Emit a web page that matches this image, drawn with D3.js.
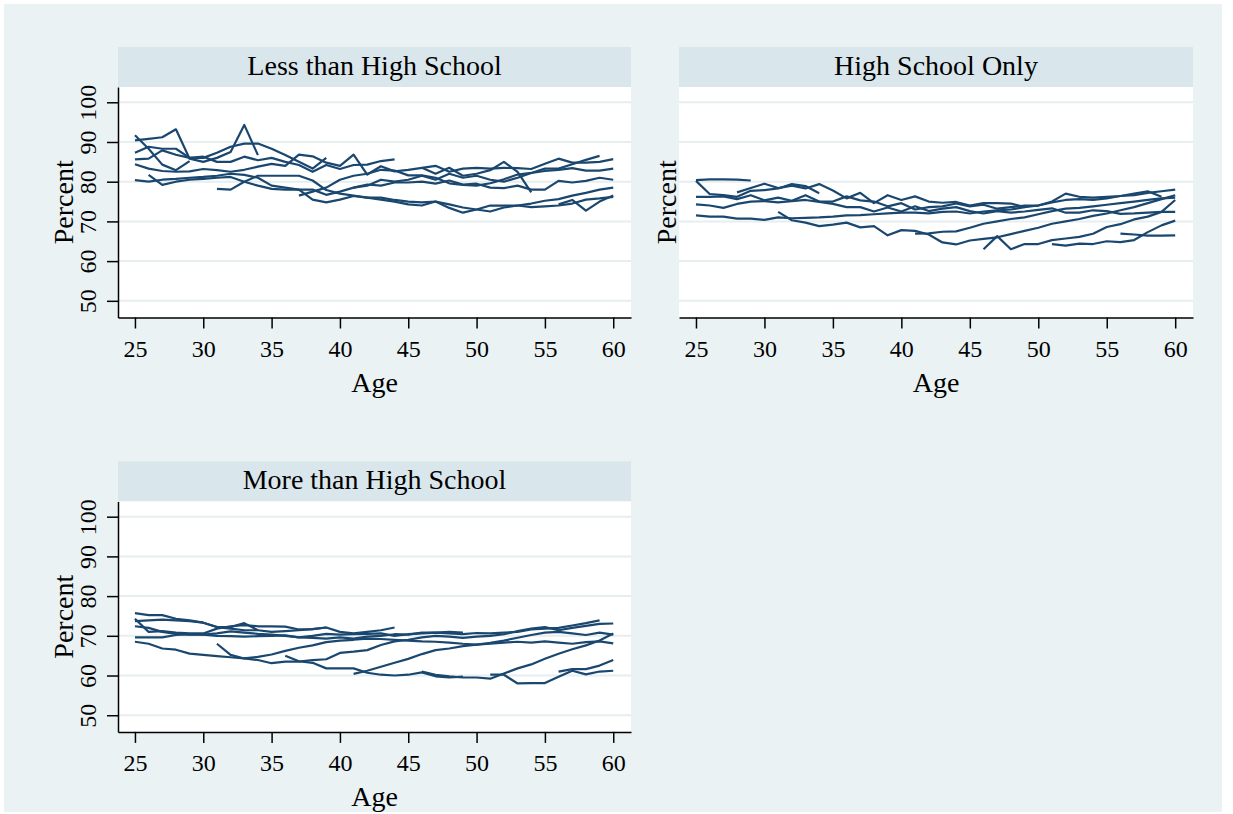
<!DOCTYPE html>
<html>
<head>
<meta charset="utf-8">
<script src="https://cdn.jsdelivr.net/npm/d3@7/dist/d3.min.js"></script>
<style>
  html, body { margin: 0; padding: 0; background: #ffffff; }
  svg { display: block; }
  text { font-family: "Liberation Serif", "Times New Roman", serif; fill: #000; }
</style>
</head>
<body>
<svg id="chart" width="1233" height="814"></svg>
<script>
// ---- data: percent by age, one line per cohort (start age + yearly values) ----
const panelTitles = ["Less than High School", "High School Only", "More than High School"];
const yTicks = [50, 60, 70, 80, 90, 100];
const xTicks = [25, 30, 35, 40, 45, 50, 55, 60];

const lessHSStarts = [25, 25, 25, 25, 25, 25, 26, 31, 37, 41, 46, 56];
const lessHSValues = [
  [91.7, 88.3, 84.3, 82.9, 85.2],
  [90.4, 90.8, 91.2, 93.2, 85.8, 85.0, 86.0, 87.5, 94.3, 86.7],
  [87.3, 88.8, 88.3, 88.3, 86.0, 86.0, 87.3, 88.8, 89.6, 89.6, 88.3, 86.7, 85.0, 83.3, 86.0],
  [85.6, 85.8, 87.9, 86.8, 86.0, 86.3, 85.0, 85.0, 86.3, 85.4, 86.0, 85.0, 84.2, 82.5, 84.2, 83.2, 84.2, 84.3, 85.2, 85.6],
  [84.4, 83.3, 82.7, 82.5, 82.6, 83.2, 82.9, 82.5, 83.0, 83.8, 84.5, 84.0, 86.8, 86.4, 84.8, 84.0, 86.8, 81.8, 83.9, 82.6,
   83.0, 83.5, 84.0, 82.5, 83.3, 83.5, 83.3, 83.5, 83.4, 83.2, 84.5, 85.8, 84.8, 84.8, 85.0, 85.7],
  [80.4, 80.0, 80.5, 80.7, 81.0, 81.2, 81.5, 82.0, 81.7, 81.0, 79.0, 78.5, 78.0, 78.0, 76.7, 77.5, 78.5, 79.3, 79.0, 79.8,
   79.8, 80.0, 79.5, 80.3, 79.3, 79.5, 78.5, 78.4, 79.0, 78.0, 78.0, 80.2, 79.8, 80.2, 81.0, 80.5],
  [81.7, 79.2, 80.0, 80.5, 80.7, 81.0, 81.2, 80.0, 79.0, 78.2, 78.0, 78.0, 75.5, 74.8, 75.5, 76.4, 76.0, 76.0, 75.4, 75.0,
   74.8, 75.0, 73.4, 72.2, 73.0, 74.0, 74.0, 74.0, 73.6, 73.8, 74.0, 74.5, 75.5, 75.8, 76.2],
  [78.2, 78.0, 80.0, 81.5, 81.5, 81.5, 81.5, 80.3, 77.9, 77.0, 76.5, 76.0, 75.5, 75.0, 74.3, 74.0, 75.0, 74.3, 73.5, 73.0,
   72.5, 73.5, 74.0, 74.5, 75.2, 75.6, 76.5, 77.2, 78.0, 78.5],
  [76.5, 77.5, 78.5, 80.5, 81.5, 82.0, 83.0, 82.8, 81.6, 81.6, 81.0, 79.6, 79.2, 79.0, 79.6, 80.6, 81.8, 82.2, 82.7, 83.0,
   83.4, 82.8, 82.8, 83.3],
  [78.5, 79.0, 80.5, 80.0, 80.5, 81.5, 80.5, 82.0, 81.0, 81.5, 80.5, 80.0, 81.0, 82.2, 83.3, 83.3, 84.4, 85.5, 86.5],
  [83.5, 82.0, 83.5, 81.5, 82.0, 82.9, 85.0, 82.5, 77.3],
  [74.3, 75.4, 72.7, 75.0, 76.5]
];

const hsOnlyStarts = [25, 25, 28, 25, 25, 25, 31, 41, 46, 51, 56];
const hsOnlyValues = [
  [80.4, 80.6, 80.6, 80.5, 80.3],
  [80.2, 76.9, 76.6, 76.2, 77.7, 77.9, 78.3, 79.4, 78.9, 77.1],
  [77.3, 78.4, 79.5, 78.4, 79.0, 78.3, 79.4, 77.8, 75.8, 77.2, 74.6, 76.6, 75.4, 76.3, 75.0, 74.7, 74.9, 74.0, 74.6, 74.6,
   74.5, 73.6],
  [76.2, 76.2, 76.3, 75.6, 76.6, 75.3, 76.0, 75.2, 76.6, 75.0, 75.0, 76.3, 75.3, 75.0, 73.8, 74.6, 73.0, 73.6, 73.8, 74.5,
   73.8, 74.2, 73.2, 73.6, 74.0, 74.0, 75.0, 77.0, 76.2, 76.0, 76.2, 76.4, 77.0, 77.6, 76.2],
  [74.3, 74.0, 73.4, 74.4, 75.0, 75.1, 74.8, 75.1, 75.4, 74.9, 74.4, 73.6, 73.6, 72.5, 73.5, 72.5, 73.8, 72.6, 73.2, 73.6,
   72.6, 72.0, 72.6, 72.2, 72.5, 72.9, 73.3, 72.2, 72.2, 72.8, 72.6, 71.9, 72.0, 72.2, 72.4, 72.4],
  [71.5, 71.2, 71.2, 70.7, 70.7, 70.4, 71.0, 70.8, 70.9, 71.0, 71.2, 71.5, 71.6, 71.8, 72.0, 72.2, 72.2, 72.0, 72.4, 72.5,
   72.0, 72.5, 72.8, 73.0, 73.6, 74.0, 74.8, 75.4, 75.6, 75.4, 75.8, 76.4, 76.6, 77.2, 77.6, 78.0],
  [72.4, 70.3, 69.7, 68.8, 69.2, 69.7, 68.5, 68.8, 66.5, 67.8, 67.6, 66.7, 64.7, 64.2, 65.2, 65.6, 66.0, 66.8, 67.6, 68.4,
   69.4, 70.0, 70.6, 71.4, 72.0, 72.8, 73.6, 74.6, 75.6, 76.6],
  [66.9, 67.0, 67.4, 67.5, 68.4, 69.4, 70.0, 70.6, 71.0, 71.8, 72.6, 73.2, 73.4, 73.8, 74.2, 74.6, 75.0, 75.4, 75.8, 76.0],
  [63.0, 66.3, 63.0, 64.3, 64.3, 65.3, 65.7, 66.1, 66.9, 68.6, 69.3, 70.5, 71.2, 72.4, 75.4],
  [64.3, 63.9, 64.4, 64.3, 65.0, 64.8, 65.3, 67.3, 69.0, 70.2],
  [66.9, 66.7, 66.4, 66.4, 66.5]
];

const moreHSStarts = [25, 25, 25, 25, 25, 25, 31, 36, 41, 46, 51, 56];
const moreHSValues = [
  [75.7, 75.2, 75.2, 74.3, 73.9, 73.3, 72.2, 72.2, 73.2, 71.4],
  [74.3, 71.0, 71.2, 70.8, 70.6, 70.6, 71.8, 72.4, 72.7, 72.4, 72.4, 72.3, 71.6, 71.7, 72.1, 71.0, 70.6, 71.0, 71.4, 72.1],
  [73.7, 73.9, 74.1, 73.9, 73.7, 73.3, 72.2, 71.8, 71.4, 71.4, 71.0, 71.2, 71.4, 71.7, 72.1],
  [72.4, 72.0, 71.0, 70.5, 70.3, 70.3, 70.6, 71.1, 70.8, 70.5, 70.3, 70.0, 69.6, 70.0, 70.5, 70.3, 70.4, 70.5, 70.6, 70.0,
   70.4, 70.6, 70.8, 70.6, 70.4, 70.7, 70.6, 70.8, 71.0, 71.6, 71.8, 72.0, 72.6, 73.2, 73.9],
  [69.6, 69.6, 69.6, 70.2, 70.4, 70.3, 70.0, 69.9, 69.8, 69.9, 70.0, 70.1, 69.6, 69.5, 69.3, 69.6, 69.3, 69.8, 70.0, 70.4,
   70.3, 70.8, 70.8, 71.0, 70.8],
  [68.5, 68.0, 66.8, 66.5, 65.5, 65.2, 64.9, 64.6, 64.3, 64.7, 65.3, 66.2, 67.0, 67.6, 68.4, 68.8, 69.0, 69.3, 69.2, 69.0,
   68.8, 68.6, 68.5, 68.3, 68.0, 67.8, 68.0, 68.3, 68.5, 68.3, 68.6, 68.3, 68.0, 68.4, 68.6, 68.1],
  [68.0, 65.2, 64.3, 63.9, 63.1, 63.5, 63.5, 63.9, 64.1, 65.7, 66.0, 66.4, 67.7, 68.6, 69.0, 69.6, 70.0, 69.8, 69.5, 69.8,
   70.0, 70.4, 71.2, 71.8, 72.2, 71.4, 72.0, 72.5, 73.0, 73.1],
  [65.0, 63.6, 63.2, 61.8, 61.8, 61.8, 60.7, 60.2, 60.0, 60.2, 60.8, 59.8, 59.5, 59.7],
  [60.4, 61.2, 62.2, 63.2, 64.2, 65.4, 66.4, 66.8, 67.4, 67.8, 68.2, 68.8, 69.5, 70.2, 70.8, 71.0, 70.6, 70.2, 70.8, 70.3],
  [61.0, 60.2, 59.8, 59.5, 59.5, 59.2, 60.5, 61.8, 62.8, 64.2, 65.5, 66.6, 67.6, 68.8, 70.6],
  [60.2, 60.2, 58.0, 58.1, 58.1, 59.7, 61.2, 60.3, 61.0, 61.2],
  [61.0, 61.6, 61.6, 62.5, 63.9]
];

// ---- layout ----
const colors = {
  graph: "#eaf2f3",
  strip: "#d9e6eb",
  plot: "#ffffff",
  grid: "#e6eef0",
  line: "#1a476f",
  axis: "#000000"
};
const xDomain = [23.76, 61.3];
const yDomain = [45.8, 103.85];

// the right-hand panel shares the left panel's y axis, so only its title is drawn
const panels = [
  { title: panelTitles[0], starts: lessHSStarts, values: lessHSValues, left: 118, right: 631, top: 87, bottom: 317.5, stripTop: 47, yAxis: true },
  { title: panelTitles[1], starts: hsOnlyStarts, values: hsOnlyValues, left: 679, right: 1193, top: 87, bottom: 317.5, stripTop: 47, yAxis: false },
  { title: panelTitles[2], starts: moreHSStarts, values: moreHSValues, left: 118, right: 631, top: 501.4, bottom: 731.9, stripTop: 461.4, yAxis: true }
];

const svg = d3.select("#chart");

// graph region background
svg.append("rect").attr("x", 4).attr("y", 4).attr("width", 1218).attr("height", 808)
  .attr("fill", colors.graph);

panels.forEach(p => {
  const g = svg.append("g");
  const x = d3.scaleLinear().domain(xDomain).range([p.left, p.right]);
  const y = d3.scaleLinear().domain(yDomain).range([p.bottom, p.top]);

  // strip with subgroup title
  g.append("rect").attr("x", p.left).attr("y", p.stripTop)
    .attr("width", p.right - p.left).attr("height", p.top - p.stripTop)
    .attr("fill", colors.strip);
  g.append("text").attr("x", (p.left + p.right) / 2).attr("y", p.stripTop + 27.5)
    .attr("text-anchor", "middle").style("font-size", "28px").text(p.title);

  // plot region
  g.append("rect").attr("x", p.left).attr("y", p.top)
    .attr("width", p.right - p.left).attr("height", p.bottom - p.top)
    .attr("fill", colors.plot);

  // horizontal grid
  g.append("g").selectAll("line").data(yTicks).join("line")
    .attr("x1", p.left).attr("x2", p.right)
    .attr("y1", d => y(d)).attr("y2", d => y(d))
    .attr("stroke", colors.grid).attr("stroke-width", 2);

  // cohort lines
  const line = d3.line().x(d => x(d.age)).y(d => y(d.v));
  const series = p.values.map((vals, i) => vals.map((v, j) => ({ age: p.starts[i] + j, v })));
  g.append("g").selectAll("path").data(series).join("path")
    .attr("d", line)
    .attr("fill", "none")
    .attr("stroke", colors.line)
    .attr("stroke-width", 2.2)
    .attr("stroke-linejoin", "round")
    .attr("stroke-linecap", "butt");

  // y axis
  if (p.yAxis) {
    const yAxis = g.append("g").attr("transform", `translate(${p.left},0)`)
      .call(d3.axisLeft(y).tickValues(yTicks).tickSize(11).tickSizeOuter(0));
    yAxis.select(".domain").attr("stroke", colors.axis).attr("stroke-width", 1.5);
    yAxis.selectAll(".tick line").attr("stroke", colors.axis).attr("stroke-width", 1.5);
    yAxis.selectAll(".tick text")
      .attr("x", null).attr("dy", null)
      .attr("text-anchor", "middle")
      .attr("transform", "translate(-22,0) rotate(-90)")
      .style("font-size", "24px")
      .style("font-family", '"Liberation Serif", serif')
      .attr("fill", "#000");
  }

  // x axis
  const xAxis = g.append("g").attr("transform", `translate(0,${p.bottom})`)
    .call(d3.axisBottom(x).tickValues(xTicks).tickSize(11).tickSizeOuter(0).tickFormat(d3.format("d")));
  xAxis.select(".domain").attr("stroke", colors.axis).attr("stroke-width", 1.5);
  xAxis.selectAll(".tick line").attr("stroke", colors.axis).attr("stroke-width", 1.5);
  xAxis.selectAll(".tick text")
    .attr("y", 39.5).attr("dy", null)
    .style("font-size", "24px")
    .style("font-family", '"Liberation Serif", serif')
    .attr("fill", "#000");

  // axis titles
  const titleX = p.yAxis ? p.left - 45 : p.left - 3;
  g.append("text")
    .attr("transform", `translate(${titleX},${(p.top + p.bottom) / 2}) rotate(-90)`)
    .attr("text-anchor", "middle").style("font-size", "28px").text("Percent");
  g.append("text")
    .attr("x", (p.left + p.right) / 2).attr("y", p.bottom + 74.5)
    .attr("text-anchor", "middle").style("font-size", "28px").text("Age");
});
</script>
</body>
</html>
